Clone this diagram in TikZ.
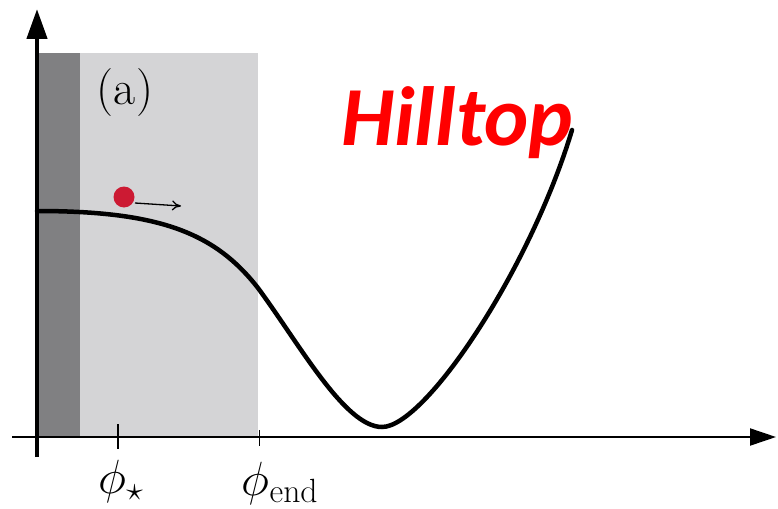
\RequirePackage{fix-cm}
\documentclass[tikz,border=0pt]{standalone}
\usepackage{fontspec}
\newfontfamily\hillfont{Carlito}
\usetikzlibrary{arrows.meta}
\definecolor{darkband}{HTML}{808082}
\definecolor{lightband}{HTML}{D4D4D6}
\definecolor{dotred}{HTML}{CC1A33}
\tikzset{
  axisline/.style={draw=black},
  curveline/.style={draw=black, line width=4.5pt, line cap=round},
  tickline/.style={draw=black},
  lbl/.style={inner sep=0pt, font=\fontsize{48}{56}\selectfont},
}
\begin{document}
\begin{tikzpicture}[x=1pt,y=-1pt]
\useasboundingbox (0,0) rectangle (778,508);
% bands
\fill[darkband] (37,53) rectangle (80,437);
\fill[lightband] (80,53) rectangle (258,437);
% axes
\coordinate (xs) at (12,437);
\coordinate (xe) at (776,437);
\coordinate (ys) at (37,457);
\coordinate (ye) at (37,9);
\draw[axisline, line width=2pt, -{Triangle[length=26pt,width=17pt]}] (xs) -- (xe);
\draw[axisline, line width=4.5pt, -{Triangle[length=30pt,width=20pt]}] (ys) -- (ye);
% ticks
\coordinate (t1a) at (118,424); \coordinate (t1b) at (118,449);
\coordinate (t2a) at (259,430); \coordinate (t2b) at (259,446);
\draw[tickline, line width=2.5pt] (t1a) -- (t1b);
\draw[tickline, line width=1pt] (t2a) -- (t2b);
% curve
\coordinate (c0) at (37,211);
\coordinate (c1) at (258,288);
\coordinate (c2) at (382,427);
\coordinate (c3) at (572,130);
\draw[curveline] (c0) .. controls (160,211) and (215,233) .. (c1)
  .. controls (300,345) and (345,427) .. (c2)
  .. controls (425,427) and (530,270) .. (c3);
% red dot and arrow
\fill[dotred] (124,197) circle (10.5pt) node (dot) {};
\coordinate (ar0) at (135,203);
\coordinate (ar1) at (181,206);
\draw[line width=1.3pt, -{To[length=9pt,width=10pt]}] (ar0) -- (ar1);
% labels
\node[lbl] (alabel) at (125,93) {(a)};
\node[lbl] (phistar) at (121,481) {$\phi_\star$};
\node[lbl] (phiend) at (280,483) {$\phi_{\mathrm{end}}$};
\node[inner sep=0pt, text=red, font=\hillfont\bfseries\itshape\fontsize{84}{94}\selectfont] (hill) at (457,123) {Hilltop};
\end{tikzpicture}
\end{document}
